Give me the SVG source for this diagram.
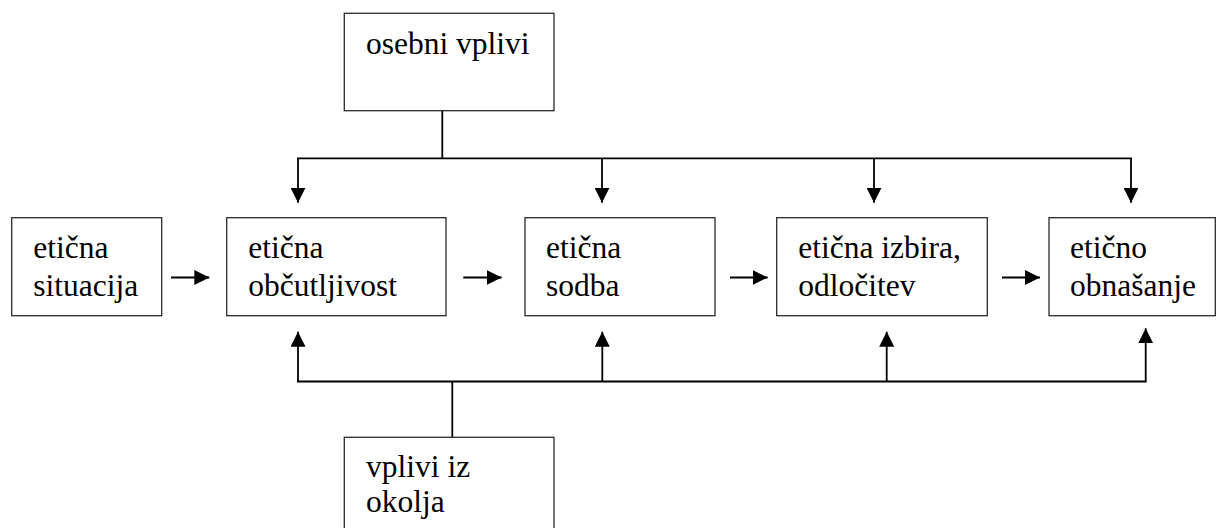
<svg xmlns="http://www.w3.org/2000/svg" width="1216" height="528" viewBox="0 0 1216 528">
<style>
.box{fill:#fff;stroke:#2a2a2a;stroke-width:1.3}
.t{font-family:'Liberation Serif','Times New Roman',Times,serif;font-size:31.5px;fill:#000}
.c{fill:none;stroke:#000;stroke-width:1.8}
</style>
<defs>
<marker id="ah" markerUnits="userSpaceOnUse" markerWidth="15" markerHeight="15" refX="15" refY="7.5" orient="auto" viewBox="0 0 15 15">
<path d="M0,0 L15,7.5 L0,15 z" fill="#000"/>
</marker>
</defs>
<rect width="1216" height="528" fill="#fff"/>
<g id="connectors">
<path class="c" d="M442.3,110.7 V158.3 M297,158.3 H1132"/>
<path class="c" d="M298,158.3 V202.7" marker-end="url(#ah)"/>
<path class="c" d="M602,158.3 V202.7" marker-end="url(#ah)"/>
<path class="c" d="M874,158.3 V202.7" marker-end="url(#ah)"/>
<path class="c" d="M1131,158.3 V202.7" marker-end="url(#ah)"/>
<path class="c" d="M171,277.5 H209.3" marker-end="url(#ah)"/>
<path class="c" d="M463.3,277.5 H501.7" marker-end="url(#ah)"/>
<path class="c" d="M730,277.5 H767.7" marker-end="url(#ah)"/>
<path class="c" d="M1002,277.5 H1040" marker-end="url(#ah)"/>
<path class="c" d="M297,381.5 H1146.6 M452.3,381.5 V437.3"/>
<path class="c" d="M298,381.5 V331.7" marker-end="url(#ah)"/>
<path class="c" d="M602.3,381.5 V331.7" marker-end="url(#ah)"/>
<path class="c" d="M886.7,381.5 V331.7" marker-end="url(#ah)"/>
<path class="c" d="M1145.7,381.5 V328.3" marker-end="url(#ah)"/>
</g>
<g id="osebni-vplivi">
<rect class="box" x="344.3" y="13.3" width="209.7" height="97.4"/>
<text class="t" x="366" y="54">osebni vplivi</text>
</g>
<g id="eticna-situacija">
<rect class="box" x="11.7" y="217.7" width="150" height="98"/>
<text class="t" x="33.3" y="257.5">etična</text>
<text class="t" x="33.3" y="295.5">situacija</text>
</g>
<g id="eticna-obcutljivost">
<rect class="box" x="226.7" y="217.7" width="219.3" height="98"/>
<text class="t" x="248.3" y="257.5">etična</text>
<text class="t" x="248.3" y="295.5">občutljivost</text>
</g>
<g id="eticna-sodba">
<rect class="box" x="525" y="217.7" width="190" height="98"/>
<text class="t" x="546" y="257.5">etična</text>
<text class="t" x="546" y="295.5">sodba</text>
</g>
<g id="eticna-izbira">
<rect class="box" x="776.7" y="217.7" width="210.6" height="98"/>
<text class="t" x="798.3" y="257.5">etična izbira,</text>
<text class="t" x="798.3" y="295.5">odločitev</text>
</g>
<g id="eticno-obnasanje">
<rect class="box" x="1049" y="217.7" width="166.3" height="98"/>
<text class="t" x="1070" y="257.5">etično</text>
<text class="t" x="1070" y="295.5">obnašanje</text>
</g>
<g id="vplivi-iz-okolja">
<rect class="box" x="344.3" y="437.3" width="209.7" height="100"/>
<text class="t" x="366" y="476.5">vplivi iz</text>
<text class="t" x="366" y="512">okolja</text>
</g>
</svg>
